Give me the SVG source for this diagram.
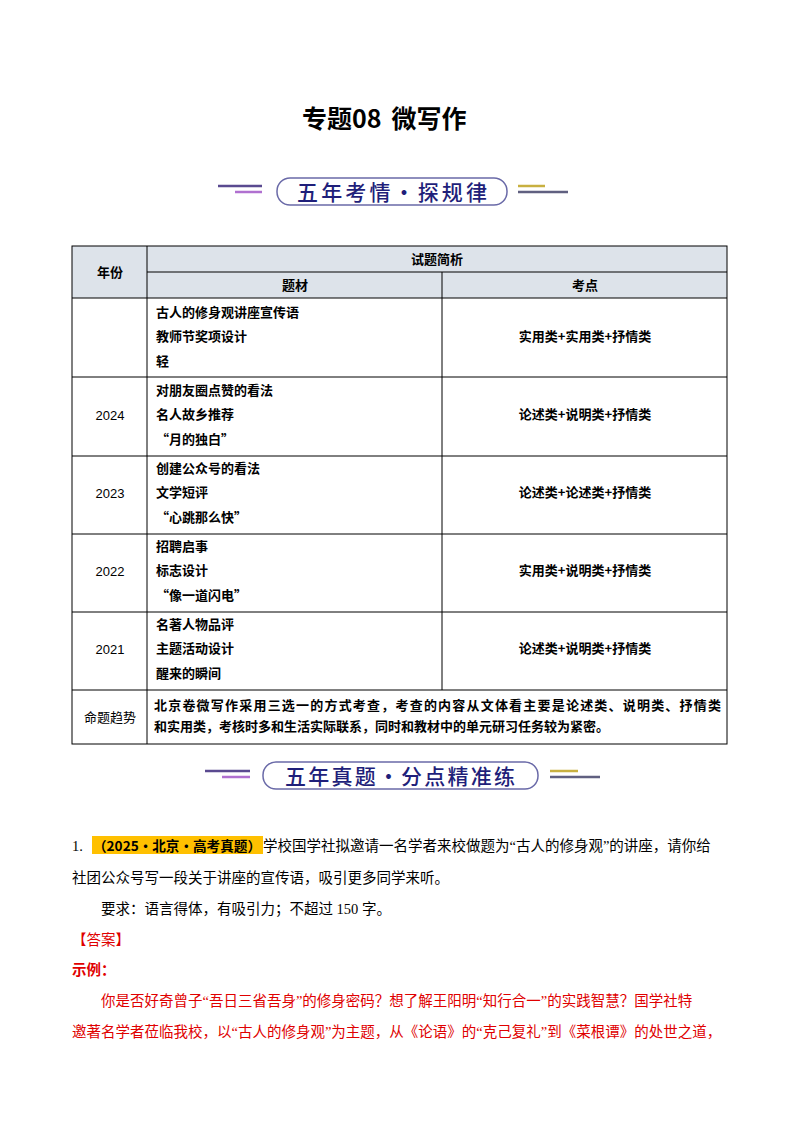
<svg xmlns="http://www.w3.org/2000/svg" width="800" height="1132" viewBox="0 0 800 1132">
<style>
.t{font-family:"Noto Sans CJK SC",sans-serif;fill:#000}
.b{font-weight:bold;font-size:13px}
.c{font-size:13px;font-family:"Liberation Sans","Noto Sans CJK SC",sans-serif}
.s{font-family:"Liberation Serif","Noto Sans CJK SC",serif;font-size:14.5px;fill:#000}
.r{fill:#e00000}
.ln{stroke:#000;stroke-width:1;fill:none}
.ban{font-family:"Noto Sans CJK SC",sans-serif;font-size:21px;font-weight:500;fill:#1f1f7a}
</style>
<rect width="800" height="1132" fill="#fff"/>
<text x="302" y="128" class="t" font-size="25" font-weight="bold">专题08<tspan dx="10">微写作</tspan></text>
<g id="banner1">
<line x1="218" y1="186" x2="262" y2="186" stroke="#5a4a90" stroke-width="2.5"/>
<line x1="235" y1="192" x2="262" y2="192" stroke="#b070d0" stroke-width="2.5"/>
<rect x="277" y="178" width="230" height="27" rx="13" fill="#fff" stroke="#6a6aa8" stroke-width="1.5"/>
<text x="392" y="200" text-anchor="middle" class="ban" textLength="190">五年考情·探规律</text>
<line x1="518" y1="186" x2="545" y2="186" stroke="#c8b040" stroke-width="2.5"/>
<line x1="518" y1="192" x2="568" y2="192" stroke="#606080" stroke-width="2.5"/>
</g>
<g id="table">
<rect x="72" y="246" width="655" height="52" fill="#dde3ea"/>
<rect x="72" y="246" width="655" height="498" class="ln"/>
<line x1="147" y1="246" x2="147" y2="744" class="ln"/>
<line x1="442" y1="272" x2="442" y2="690" class="ln"/>
<line x1="147" y1="272" x2="727" y2="272" class="ln"/>
<line x1="72" y1="298" x2="727" y2="298" class="ln"/>
<line x1="72" y1="377" x2="727" y2="377" class="ln"/>
<line x1="72" y1="456" x2="727" y2="456" class="ln"/>
<line x1="72" y1="534" x2="727" y2="534" class="ln"/>
<line x1="72" y1="612" x2="727" y2="612" class="ln"/>
<line x1="72" y1="690" x2="727" y2="690" class="ln"/>
<text x="110" y="277" text-anchor="middle" class="t b">年份</text>
<text x="437" y="264" text-anchor="middle" class="t b">试题简析</text>
<text x="295" y="290" text-anchor="middle" class="t b">题材</text>
<text x="585" y="290" text-anchor="middle" class="t b">考点</text>
<text x="156" y="317" class="t b">古人的修身观讲座宣传语</text>
<text x="156" y="341" class="t b">教师节奖项设计</text>
<text x="156" y="366" class="t b">轻</text>
<text x="585" y="341" text-anchor="middle" class="t b">实用类+实用类+抒情类</text>
<text x="110" y="420" text-anchor="middle" class="t c">2024</text>
<text x="156" y="395" class="t b">对朋友圈点赞的看法</text>
<text x="156" y="419" class="t b">名人故乡推荐</text>
<text x="156" y="444" class="t b">“月的独白”</text>
<text x="585" y="419" text-anchor="middle" class="t b">论述类+说明类+抒情类</text>
<text x="110" y="498" text-anchor="middle" class="t c">2023</text>
<text x="156" y="473" class="t b">创建公众号的看法</text>
<text x="156" y="497" class="t b">文学短评</text>
<text x="156" y="522" class="t b">“心跳那么快”</text>
<text x="585" y="497" text-anchor="middle" class="t b">论述类+论述类+抒情类</text>
<text x="110" y="576" text-anchor="middle" class="t c">2022</text>
<text x="156" y="551" class="t b">招聘启事</text>
<text x="156" y="575" class="t b">标志设计</text>
<text x="156" y="600" class="t b">“像一道闪电”</text>
<text x="585" y="575" text-anchor="middle" class="t b">实用类+说明类+抒情类</text>
<text x="110" y="654" text-anchor="middle" class="t c">2021</text>
<text x="156" y="629" class="t b">名著人物品评</text>
<text x="156" y="653" class="t b">主题活动设计</text>
<text x="156" y="678" class="t b">醒来的瞬间</text>
<text x="585" y="653" text-anchor="middle" class="t b">论述类+说明类+抒情类</text>
<text x="110" y="722" text-anchor="middle" class="t" font-size="13">命题趋势</text>
<text x="154" y="710" class="t b" textLength="567">北京卷微写作采用三选一的方式考查，考查的内容从文体看主要是论述类、说明类、抒情类</text>
<text x="154" y="731" class="t b">和实用类，考核时多和生活实际联系，同时和教材中的单元研习任务较为紧密。</text>
</g>
<g id="banner2">
<line x1="205" y1="771" x2="250" y2="771" stroke="#5a4a90" stroke-width="2.5"/>
<line x1="222" y1="777" x2="250" y2="777" stroke="#b070d0" stroke-width="2.5"/>
<rect x="263" y="762" width="275" height="27" rx="13" fill="#fff" stroke="#6a6aa8" stroke-width="1.5"/>
<text x="400" y="784" text-anchor="middle" class="ban" textLength="230">五年真题·分点精准练</text>
<line x1="550" y1="771" x2="578" y2="771" stroke="#c8b040" stroke-width="2.5"/>
<line x1="550" y1="777" x2="600" y2="777" stroke="#606080" stroke-width="2.5"/>
</g>
<rect x="92" y="836" width="171" height="18" fill="#ffc000"/>
<text x="72" y="851" class="s">1.</text>
<text x="93" y="851" class="t" font-size="13.5" font-weight="bold" fill="#c00000" textLength="168" lengthAdjust="spacingAndGlyphs">（2025•北京•高考真题）</text>
<text x="263" y="851" class="s">学校国学社拟邀请一名学者来校做题为“古人的修身观”的讲座，请你给</text>
<text x="72" y="883" class="s">社团公众号写一段关于讲座的宣传语，吸引更多同学来听。</text>
<text x="101" y="914" class="s">要求：语言得体，有吸引力；不超过 150 字。</text>
<text x="72" y="945" class="s r">【答案】</text>
<text x="72" y="975" class="t r" font-size="14.5" font-weight="bold">示例：</text>
<text x="101" y="1006" class="s r">你是否好奇曾子“吾日三省吾身”的修身密码？想了解王阳明“知行合一”的实践智慧？国学社特</text>
<text x="72" y="1037" class="s r">邀著名学者莅临我校，以“古人的修身观”为主题，从《论语》的“克己复礼”到《菜根谭》的处世之道，</text>
</svg>
